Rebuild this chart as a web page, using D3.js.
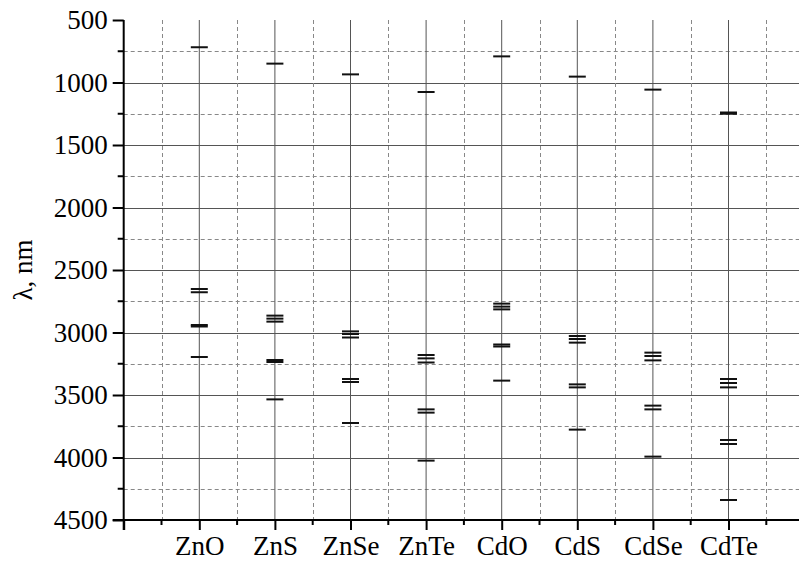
<!DOCTYPE html>
<html><head><meta charset="utf-8">
<script src="https://cdn.jsdelivr.net/npm/d3@7"></script>
<style>body{margin:0;background:#fff}svg{display:block}</style>
</head><body>
<svg id="c" width="799" height="563"></svg>
<script>
const categories = ["ZnO","ZnS","ZnSe","ZnTe","CdO","CdS","CdSe","CdTe"];
const ZnO  = [718, 2652, 2678, 2940, 2952, 3196];
const ZnS  = [849, 2865, 2889, 2913, 3220, 3236, 3535];
const ZnSe = [935, 2991, 3012, 3040, 3372, 3396, 3724];
const ZnTe = [1076, 3180, 3207, 3240, 3615, 3641, 4025];
const CdO  = [791, 2769, 2793, 2815, 3096, 3112, 3385];
const CdS  = [953, 3028, 3052, 3081, 3415, 3439, 3777];
const CdSe = [1057, 3161, 3188, 3223, 3585, 3615, 3993];
const CdTe = [1240, 1250, 3372, 3404, 3439, 3860, 3892, 4340];
const levels = [ZnO, ZnS, ZnSe, ZnTe, CdO, CdS, CdSe, CdTe];
const yMajor = [500, 1000, 1500, 2000, 2500, 3000, 3500, 4000, 4500];
const yMinor = [750, 1250, 1750, 2250, 2750, 3250, 3750, 4250];

const svg = d3.select("#c");
const x = d3.scaleLinear().domain([0, 9]).range([123.7, 804.1]);
const y = d3.scaleLinear().domain([500, 4500]).range([20, 520]);

const g = svg.append("g");
g.selectAll(".hmaj").data(yMajor.filter(v => v > 500 && v < 4500)).join("line")
  .attr("x1", x(0)).attr("x2", 799).attr("y1", d => Math.round(y(d)) + 0.5).attr("y2", d => Math.round(y(d)) + 0.5)
  .attr("stroke", "#555").attr("stroke-width", 1);
g.selectAll(".hmin").data(yMinor).join("line")
  .attr("x1", x(0)).attr("x2", 799).attr("y1", d => Math.round(y(d)) + 0.5).attr("y2", d => Math.round(y(d)) + 0.5)
  .attr("stroke", "#888").attr("stroke-width", 1).attr("stroke-dasharray", "4,3");
const xMajor = d3.range(1, 9);
const xMinor = d3.range(0.5, 9, 1);
g.selectAll(".vmaj").data(xMajor).join("line")
  .attr("x1", d => x(d)).attr("x2", d => x(d)).attr("y1", y(500)).attr("y2", y(4500))
  .attr("stroke", "#555").attr("stroke-width", 1);
g.selectAll(".vmin").data(xMinor).join("line")
  .attr("x1", d => Math.round(x(d)) + 0.5).attr("x2", d => Math.round(x(d)) + 0.5).attr("y1", y(500)).attr("y2", y(4500))
  .attr("stroke", "#888").attr("stroke-width", 1).attr("stroke-dasharray", "4,3");

const marks = [];
levels.forEach((arr, i) => arr.forEach(v => marks.push({i: i + 1, v})));
g.selectAll(".mark").data(marks).join("line")
  .attr("x1", d => x(d.i) - 8.5).attr("x2", d => x(d.i) + 8.5)
  .attr("y1", d => y(d.v)).attr("y2", d => y(d.v))
  .attr("stroke", "#111").attr("stroke-width", 2);

const yAxis = d3.axisLeft(y).tickValues(yMajor).tickSize(11).tickPadding(5).tickFormat(d3.format("d"));
const ya = svg.append("g").attr("transform", `translate(${x(0)},0)`).call(yAxis);
ya.attr("font-family", "Liberation Serif").attr("font-size", 27);
ya.select(".domain").remove();
ya.selectAll(".tick line").attr("stroke", "#000").attr("stroke-width", 2);
ya.selectAll(".tick text").attr("fill", "#000");
svg.append("g").selectAll("line").data(yMinor).join("line")
  .attr("x1", x(0) - 6).attr("x2", x(0)).attr("y1", d => y(d)).attr("y2", d => y(d))
  .attr("stroke", "#000").attr("stroke-width", 2);

const xAxis = d3.axisBottom(x).tickValues(d3.range(0, 10)).tickSize(10).tickPadding(6)
  .tickFormat(d => (d >= 1 && d <= 8) ? categories[d - 1] : "");
const xa = svg.append("g").attr("transform", `translate(0,${y(4500)})`).call(xAxis);
xa.attr("font-family", "Liberation Serif").attr("font-size", 27);
xa.select(".domain").remove();
xa.selectAll(".tick line").attr("stroke", "#000").attr("stroke-width", 2);
xa.selectAll(".tick text").attr("fill", "#000");
svg.append("g").selectAll("line").data(xMinor).join("line")
  .attr("x1", d => x(d)).attr("x2", d => x(d)).attr("y1", y(4500)).attr("y2", y(4500) + 5)
  .attr("stroke", "#000").attr("stroke-width", 2);

svg.append("line").attr("x1", x(0)).attr("x2", x(0)).attr("y1", y(500)).attr("y2", y(4500) + 10)
  .attr("stroke", "#000").attr("stroke-width", 2);
svg.append("line").attr("x1", x(0) - 11).attr("x2", 799).attr("y1", y(4500)).attr("y2", y(4500))
  .attr("stroke", "#000").attr("stroke-width", 2);

svg.append("text").attr("transform", "translate(32,270) rotate(-90)")
  .attr("text-anchor", "middle").attr("font-family", "Liberation Serif").attr("font-size", 27)
  .text("λ, nm");
</script>
</body></html>
